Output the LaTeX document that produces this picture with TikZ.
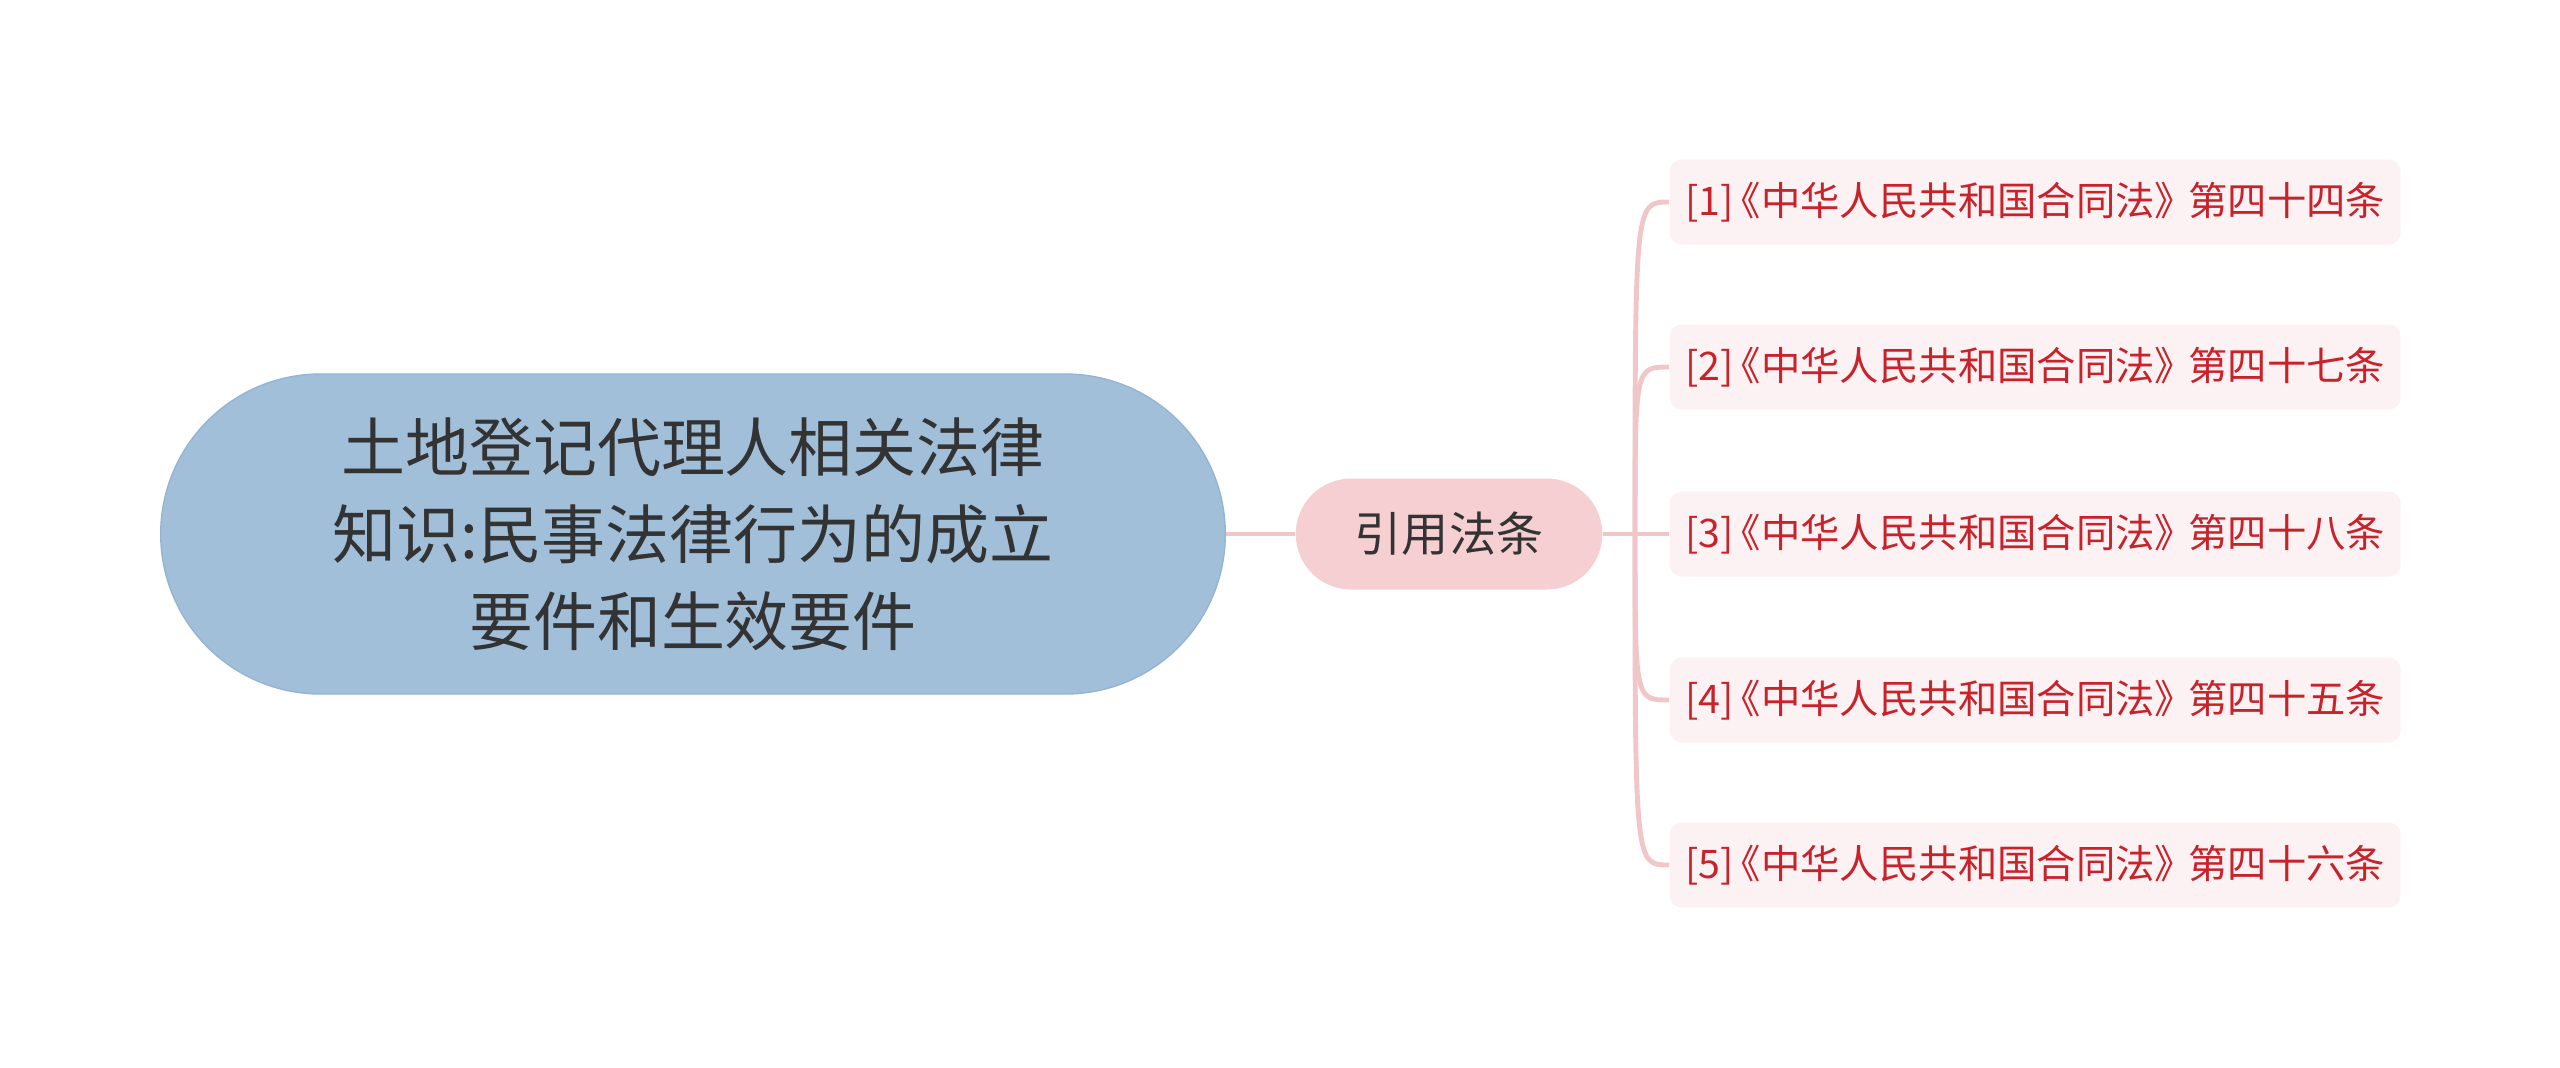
\documentclass[tikz,border=0pt]{standalone}
\usepackage{fontspec}
\setmainfont{Noto Sans CJK SC}
\usepackage{xcolor}
\definecolor{rootfill}{HTML}{A2BFDA}
\definecolor{rootline}{HTML}{94B4D3}
\definecolor{topicfill}{HTML}{F5CFD1}
\definecolor{leaffill}{HTML}{FDF2F3}
\definecolor{leaftext}{HTML}{C8232B}
\definecolor{linkpink}{HTML}{F0C6C8}
\definecolor{darktext}{HTML}{333333}
\usepackage{tikz}
\usetikzlibrary{shapes.misc,positioning}
\tikzset{
  root/.style   = {rounded rectangle,fill=rootfill,draw=rootline,thin,
                   minimum width=108.8mm,minimum height=32mm,align=center,
                   text=darktext,font=\fontsize{18.2}{24.7}\selectfont},
  topic/.style  = {rounded rectangle,fill=topicfill,minimum width=33mm,
                   minimum height=11.1mm,text=darktext,
                   font=\fontsize{13.4}{16}\selectfont},
  leaf/.style   = {rectangle,rounded corners=1.2mm,fill=leaffill,
                   minimum width=73.1mm,minimum height=8.5mm,anchor=west,
                   text=leaftext,font=\fontsize{11.2}{14}\selectfont},
  link/.style   = {draw=linkpink,line width=1.4pt},
}
\newcommand{\lawref}[2]{[#1]\kern-.3em《中华人民共和国合同法》\kern-.15em 第四十#2条}

\begin{document}
\begin{tikzpicture}
  \useasboundingbox (0,0) rectangle (25.6,-10.67);

  \node[root] (root) at (6.93,-5.34)
        {土地登记代理人相关法律\\ 知识:民事法律行为的成立\\ 要件和生效要件};
  \node[topic] (cite) at (14.49,-5.34) {引用法条};

  \node[leaf] (law1) at (16.69,-2.02) {\lawref{1}{四}};
  \node[leaf] (law2) at (16.69,-3.67) {\lawref{2}{七}};
  \node[leaf] (law3) at (16.69,-5.34) {\lawref{3}{八}};
  \node[leaf] (law4) at (16.69,-7.00) {\lawref{4}{五}};
  \node[leaf] (law5) at (16.69,-8.65) {\lawref{5}{六}};

  \coordinate (fork) at (16.35,-5.34);

  \draw[link] (root.east) -- (cite.west);
  \draw[link] (cite.east) -- (law3.west);
  \draw[link] (fork) .. controls (fork |- law1.west) .. (law1.west);
  \draw[link] (fork) .. controls (fork |- law2.west) .. (law2.west);
  \draw[link] (fork) .. controls (fork |- law4.west) .. (law4.west);
  \draw[link] (fork) .. controls (fork |- law5.west) .. (law5.west);
\end{tikzpicture}
\end{document}
